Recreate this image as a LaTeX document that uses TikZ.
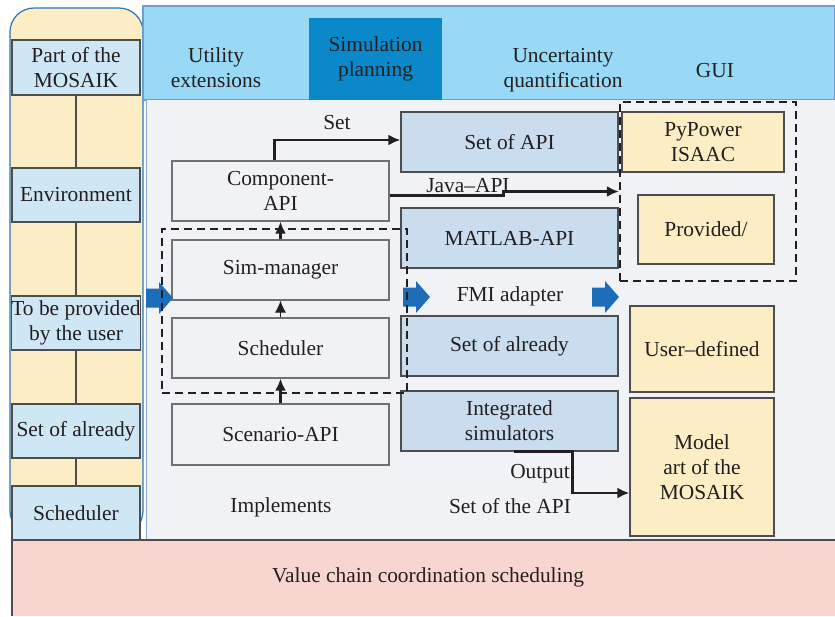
\documentclass[tikz,border=0pt]{standalone}
\usepackage{fontspec}
\setmainfont{Liberation Serif}
\usetikzlibrary{arrows.meta}
\definecolor{colyellow}{RGB}{252,237,197}
\definecolor{colleft}{RGB}{207,230,244}
\definecolor{colband}{RGB}{153,217,245}
\definecolor{colplan}{RGB}{10,136,201}
\definecolor{colpanel}{RGB}{241,242,245}
\definecolor{colapi}{RGB}{201,221,239}
\definecolor{colpink}{RGB}{249,213,208}
\definecolor{colarrow}{RGB}{30,109,184}
\definecolor{colframe}{RGB}{46,117,182}
\definecolor{colline}{RGB}{77,77,77}
\definecolor{coltext}{RGB}{35,31,32}
\newcommand{\blockarrow}[2]{\fill[colarrow] (#1,#2) ++(0,-9.5) -- ++(13,0) -- ++(0,-6.5)
 -- ++(14,16) -- ++(-14,16) -- ++(0,-6.5) -- ++(-13,0) -- cycle;}
\begin{document}
\begin{tikzpicture}[x=0.5pt,y=-0.5pt,
 every node/.style={font=\fontsize{10.7pt}{12.5pt}\selectfont,align=center,text=coltext},
 leftbox/.style={draw=colline,fill=colleft,line width=0.6pt,inner sep=0pt,minimum width=64pt,minimum height=27pt},
 graybox/.style={draw=colline!80,fill=colpanel,line width=0.6pt,inner sep=0pt,minimum width=108.5pt,minimum height=30pt},
 apibox/.style={draw=colline,fill=colapi,line width=0.6pt,inner sep=0pt,minimum width=108.5pt,minimum height=30pt},
 yelbox/.style={draw=colline,fill=colyellow,line width=0.6pt,inner sep=0pt},
 dashbox/.style={draw=coltext,dash pattern=on 4pt off 2.5pt,line width=1.1pt,inner sep=0pt},
 link/.style={draw=colline,line width=0.6pt},
 conn/.style={draw=coltext,line width=1.2pt,-{Latex[length=6pt,width=5.5pt]}},
 thinconn/.style={draw=coltext,line width=0.5pt,-{Latex[length=6pt,width=5.5pt]}}]
\useasboundingbox (0,0) rectangle (835,616);
% backgrounds
\fill[white] (0,0) rectangle (835,616);
\draw[colframe,fill=colyellow,line width=0.6pt,rounded corners=12pt] (10,8) rectangle (143,535);
\draw[colframe!70,fill=colband,line width=0.6pt] (143,6) rectangle (835,100);
\fill[colpanel] (146,100) rectangle (835,540);
\draw[colframe!60,line width=0.5pt] (146,100) -- (146,540);
\fill[colpink] (12,540) rectangle (835,616);
\draw[colline,line width=0.6pt] (835,540) -- (12,540) -- (12,616);
% top band
\node[fill=colplan,inner sep=0pt,minimum width=66.5pt,minimum height=41pt] (plan) at (375.5,59) {Simulation\\planning};
\node (util) at (216,68) {Utility\\extensions};
\node (uncert) at (563,70) {Uncertainty\\quantification};
\node (gui) at (715,71) {GUI};
% left column
\node[leftbox,minimum height=27.5pt] (part) at (76,67.5) {Part of the\\MOSAIK};
\node[leftbox] (env) at (76,195) {Environment};
\node[leftbox] (user) at (76,323) {To be provided\\by the user};
\node[leftbox] (already) at (76,431) {Set of already};
\node[leftbox] (leftsched) at (76,513) {Scheduler};
\draw[link] (part) -- (env);
\draw[link] (env) -- (user);
\draw[link] (user) -- (already);
\draw[link] (already) -- (leftsched);
% core
\node[graybox] (comp) at (280.5,191) {Component-\\API};
\node[graybox] (sim) at (280.5,270) {Sim-manager};
\node[graybox] (sched) at (280.5,348) {Scheduler};
\node[graybox,minimum height=30.5pt] (scen) at (280.5,434.5) {Scenario-API};
\node (impl) at (281,507) {Implements};
% api column
\node[apibox] (setapi) at (509.5,142) {Set of API};
\node[apibox] (matlab) at (509.5,238) {MATLAB-API};
\node[apibox] (setready) at (509.5,346) {Set of already};
\node[apibox] (integ) at (509.5,421) {Integrated\\simulators};
\node (fmi) at (510,296) {FMI adapter};
% simulators
\node[yelbox,minimum width=81pt,minimum height=30pt] (pypower) at (703,142) {PyPower\\ISAAC};
\node[yelbox,minimum width=68pt,minimum height=34.5pt] (provided) at (706,229.5) {Provided/};
\node[yelbox,minimum width=72pt,minimum height=43pt] (userdef) at (702,349) {User--defined};
\node[yelbox,minimum width=72pt,minimum height=69pt] (model) at (702,467) {Model\\art of the\\MOSAIK};
\node (bottom) at (428,577) {Value chain coordination scheduling};
\blockarrow{146}{298}
\blockarrow{403}{297}
\blockarrow{592}{297}
\node[dashbox,minimum width=122.5pt,minimum height=82pt] (core) at (284.5,311) {};
\node[dashbox,minimum width=88pt,minimum height=89.5pt] (ext) at (708,191.5) {};
% connectors
\draw[conn] (scen) -- (sched);
\draw[thinconn] (sched) -- (sim);
\draw[conn] (sim) -- (comp);
\draw[conn] ([xshift=-3pt]comp.north) |- ([yshift=1pt]setapi.west);
\node (set) at (337,123) {Set};
\draw[conn] (comp.east) ++(0,4.5) -- ++(114,0) -- ++(0,-4) -- (ext.west);
\node (java) at (468,186) {Java--API};
\draw[conn] ([xshift=2pt]integ.south) -- ++(59,0) |- ([yshift=-13pt]model.west);
\node (output) at (540,474) {Output};
\node (setof) at (510,506) {Set of the API};
\end{tikzpicture}
\end{document}
